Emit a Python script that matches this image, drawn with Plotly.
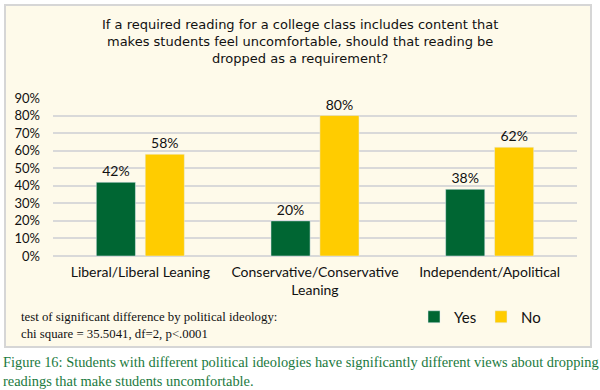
import plotly.graph_objects as go

categories = ["Liberal/Liberal Leaning", "Conservative/Conservative<br>Leaning", "Independent/Apolitical"]
yes_values = [0.42, 0.20, 0.38]
no_values = [0.58, 0.80, 0.62]
y_ticks = [0.0, 0.1, 0.2, 0.3, 0.4, 0.5, 0.6, 0.7, 0.8, 0.9]

title_lines = ["If a required reading for a college class includes content that",
               "makes students feel uncomfortable, should that reading be",
               "dropped as a requirement?"]
note_text = ("test of significant difference by political ideology:<br>"
             "chi square = 35.5041, df=2, p<.0001")
caption_text = ("Figure 16: Students with different political ideologies have significantly different views about dropping<br>"
                "readings that make students uncomfortable.")

GREEN = "#006633"
YELLOW = "#FFCC00"
CREAM = "#FEFAEA"
SANS = "Lato, 'Open Sans', sans-serif"
TITLE_SANS = "'DejaVu Sans', Lato, sans-serif"
SERIF = "'Liberation Serif', 'DejaVu Serif', serif"

L, R, T, B = 53, 577, 98, 256
W, H = R - L, B - T


def px2x(x):
    return (x - L) / W


def px2y(y):
    return (B - y) / H


fig = go.Figure()
fig.add_trace(go.Bar(name="Yes", x=categories, y=yes_values, marker_color=GREEN,
                     text=[f"{v:.0%}" for v in yes_values], textposition="outside",
                     textfont=dict(size=14, color="#111", family=SANS), cliponaxis=False))
fig.add_trace(go.Bar(name="No", x=categories, y=no_values, marker_color=YELLOW,
                     text=[f"{v:.0%}" for v in no_values], textposition="outside",
                     textfont=dict(size=14, color="#111", family=SANS), cliponaxis=False))

annotations = [
    dict(text="<br>".join(title_lines), xref="paper", yref="paper", x=px2x(300),
         y=px2y(41.7), xanchor="center", yanchor="middle", align="center",
         showarrow=False, font=dict(size=13, family=TITLE_SANS, color="#111")),
    dict(text=note_text, xref="paper", yref="paper", x=px2x(19), y=px2y(325),
         xanchor="left", yanchor="middle", showarrow=False, align="left",
         font=dict(size=12.8, family=SERIF, color="#111")),
    dict(text=caption_text, xref="paper", yref="paper", x=px2x(1), y=px2y(371),
         xanchor="left", yanchor="middle", showarrow=False, align="left",
         font=dict(size=14.4, family=SERIF, color="#1B7A3E")),
]

fig.update_layout(
    width=600, height=390,
    margin=dict(l=L, r=600 - R, t=T, b=390 - B, autoexpand=False),
    paper_bgcolor="white",
    plot_bgcolor="rgba(0,0,0,0)",
    barmode="group", bargap=0.44, bargroupgap=0.2,
    font=dict(family=SANS, color="#111"),
    showlegend=True,
    legend=dict(orientation="h", xref="container", yref="container",
                x=414 / 600, y=1 - 317 / 390, xanchor="left", yanchor="middle",
                font=dict(size=15, family=SANS), bgcolor="rgba(0,0,0,0)",
                itemwidth=30, entrywidth=22, entrywidthmode="pixels", traceorder="normal"),
    xaxis=dict(showgrid=False, showline=False, zeroline=False, tickangle=0,
               tickfont=dict(size=14, family=SANS, color="#111"), ticklabelstandoff=6),
    yaxis=dict(range=[0, 0.9], tickvals=y_ticks, tickformat=".0%",
               showgrid=True, gridcolor="#D9D9D9", gridwidth=1.5,
               zeroline=True, zerolinecolor="#D9D9D9", zerolinewidth=1.5,
               showline=False, tickfont=dict(size=13, family=SANS, color="#111"),
               ticklabelstandoff=12),
    shapes=[dict(type="rect", xref="paper", yref="paper",
                 x0=px2x(5), x1=px2x(591), y0=px2y(347), y1=px2y(5),
                 fillcolor=CREAM, line=dict(color="#D6D6D6", width=2), layer="below")],
    annotations=annotations,
)

fig.write_html("out.html", config={"displayModeBar": False},
               post_script="document.body.style.margin='0';")
